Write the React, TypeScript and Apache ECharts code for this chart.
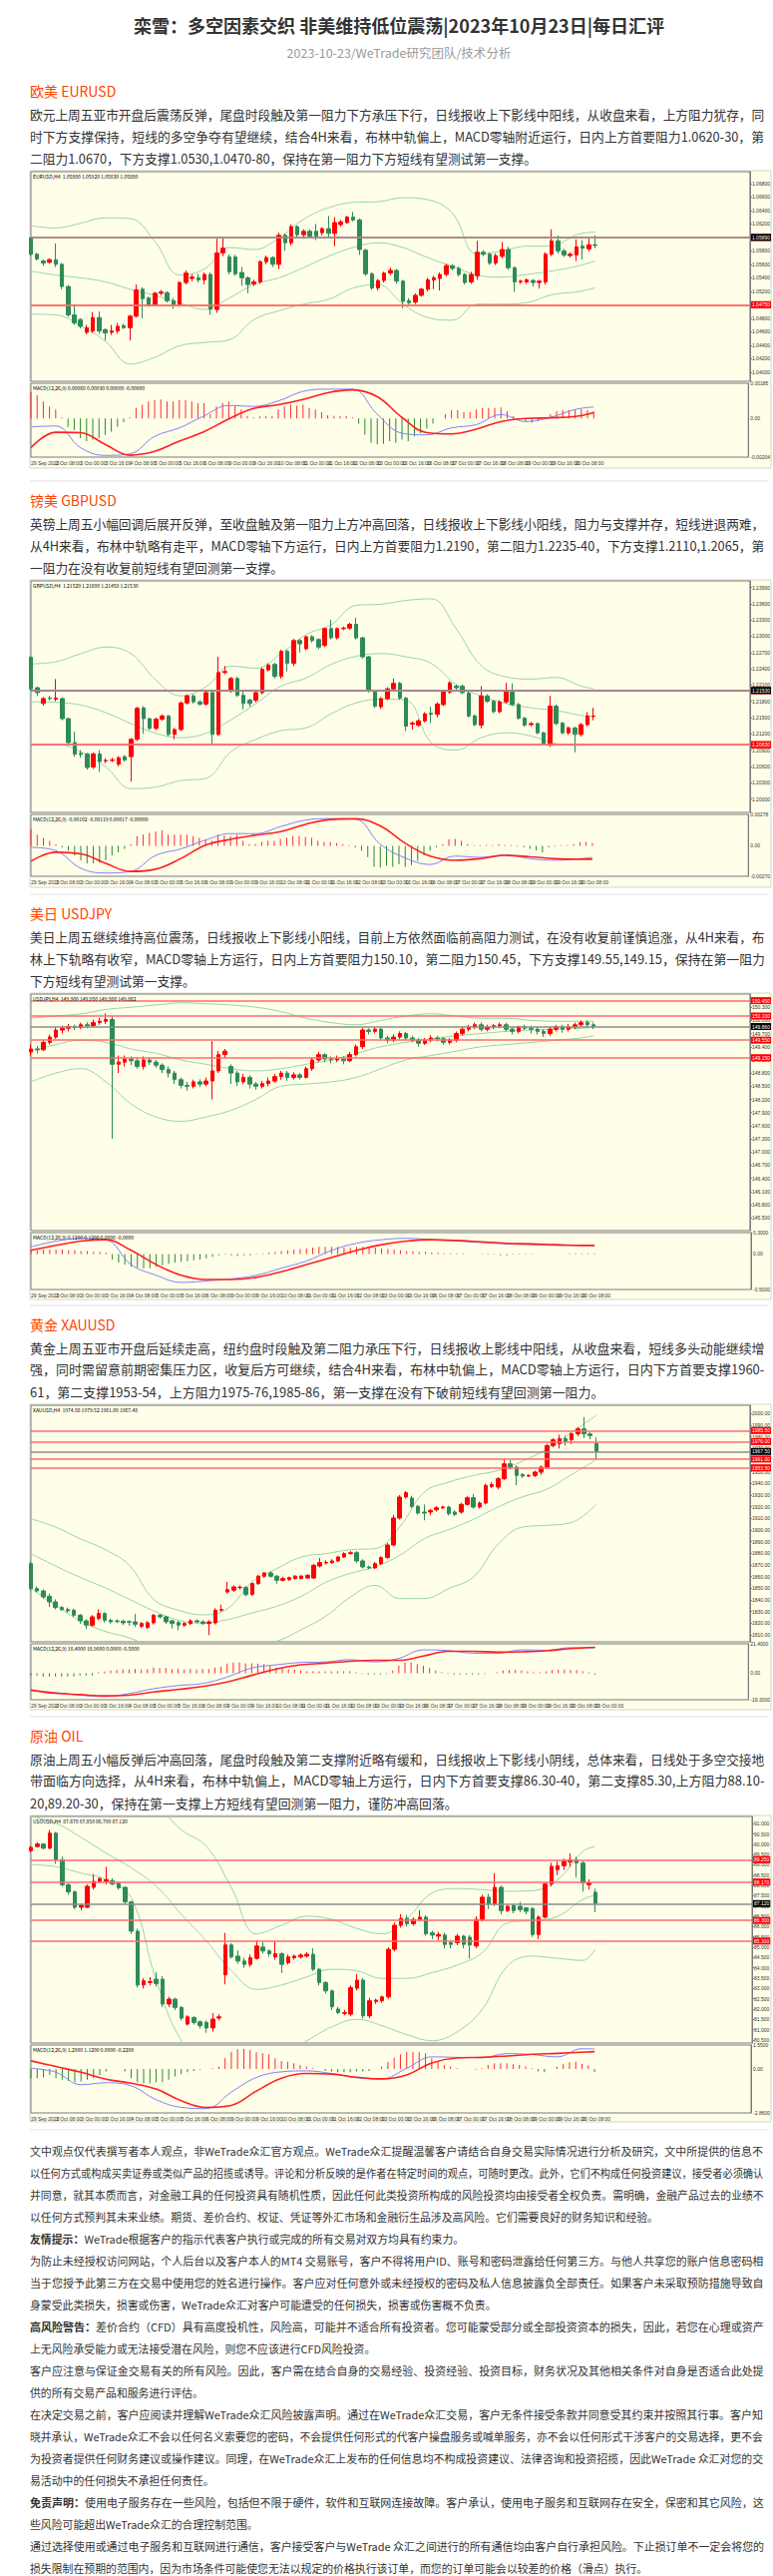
import React, { useEffect, useRef } from "react";
import * as echarts from "echarts";

const FONT = '"Noto Sans CJK SC", "Noto Sans", sans-serif';

const pageTitle = "栾雪：多空因素交织 非美维持低位震荡|2023年10月23日|每日汇评";
const pageSubtitle = "2023-10-23/WeTrade研究团队/技术分析";

const timeLabels = ["29 Sep 2023", "2 Oct 08:00", "3 Oct 00:00", "3 Oct 16:00", "4 Oct 08:00", "5 Oct 00:00", "5 Oct 16:00", "6 Oct 08:00", "9 Oct 00:00", "9 Oct 16:00", "10 Oct 08:00", "11 Oct 00:00", "11 Oct 16:00", "12 Oct 08:00", "13 Oct 00:00", "13 Oct 16:00", "16 Oct 08:00", "17 Oct 00:00", "17 Oct 16:00", "18 Oct 08:00", "19 Oct 00:00", "19 Oct 16:00", "20 Oct 08:00", "23 Oct 00:00"];

// ---------------- EURUSD ----------------
const eurHeading = "欧美 EURUSD";
const eurText = [
  "欧元上周五亚市开盘后震荡反弹，尾盘时段触及第一阻力下方承压下行，日线报收上下影线中阳线，从收盘来看，上方阻力犹存，同",
  "时下方支撑保持，短线的多空争夺有望继续，结合4H来看，布林中轨偏上，MACD零轴附近运行，日内上方首要阻力1.0620-30，第",
  "二阻力1.0670，下方支撑1.0530,1.0470-80，保持在第一阻力下方短线有望测试第一支撑。",
];
const eurCandles = [
  [1.0599,1.0575,1.0572,1.0601],[1.0575,1.0568,1.0566,1.0577],[1.0565,1.0562,1.0558,1.0567],[1.0563,1.0567,1.0561,1.0569],
  [1.0567,1.0560,1.0556,1.0591],[1.0560,1.0527,1.0523,1.0562],[1.0527,1.0485,1.0482,1.0529],[1.0485,1.0473,1.0470,1.0501],
  [1.0478,1.0468,1.0465,1.0480],[1.0459,1.0466,1.0456,1.0470],[1.0461,1.0481,1.0458,1.0489],[1.0481,1.0461,1.0457,1.0490],
  [1.0463,1.0458,1.0447,1.0465],[1.0459,1.0461,1.0455,1.0470],[1.0461,1.0468,1.0457,1.0473],[1.0469,1.0466,1.0464,1.0472],
  [1.0466,1.0483,1.0447,1.0485],[1.0483,1.0522,1.0481,1.0530],[1.0523,1.0509,1.0480,1.0526],[1.0510,1.0500,1.0497,1.0512],
  [1.0500,1.0517,1.0498,1.0519],[1.0517,1.0519,1.0514,1.0522],[1.0518,1.0506,1.0503,1.0520],[1.0506,1.0499,1.0494,1.0510],
  [1.0500,1.0533,1.0497,1.0535],[1.0533,1.0547,1.0530,1.0551],[1.0539,1.0541,1.0535,1.0545],[1.0540,1.0537,1.0533,1.0546],
  [1.0537,1.0545,1.0530,1.0548],[1.0545,1.0493,1.0485,1.0548],[1.0493,1.0577,1.0488,1.0598],[1.0577,1.0584,1.0572,1.0599],
  [1.0571,1.0549,1.0545,1.0575],[1.0571,1.0546,1.0543,1.0574],[1.0548,1.0540,1.0528,1.0556],[1.0540,1.0530,1.0517,1.0542],
  [1.0531,1.0534,1.0528,1.0537],[1.0534,1.0564,1.0531,1.0566],[1.0564,1.0570,1.0560,1.0573],[1.0570,1.0560,1.0556,1.0572],
  [1.0560,1.0603,1.0553,1.0607],[1.0603,1.0592,1.0580,1.0606],[1.0592,1.0616,1.0588,1.0619],[1.0616,1.0604,1.0600,1.0618],
  [1.0604,1.0609,1.0598,1.0612],[1.0609,1.0602,1.0599,1.0612],[1.0609,1.0602,1.0596,1.0620],[1.0607,1.0613,1.0603,1.0615],
  [1.0613,1.0606,1.0600,1.0632],[1.0606,1.0622,1.0587,1.0630],[1.0619,1.0623,1.0616,1.0626],[1.0622,1.0630,1.0620,1.0632],
  [1.0630,1.0626,1.0624,1.0638],[1.0626,1.0582,1.0574,1.0628],[1.0581,1.0546,1.0543,1.0583],[1.0546,1.0525,1.0522,1.0548],
  [1.0525,1.0536,1.0521,1.0538],[1.0536,1.0547,1.0533,1.0549],[1.0547,1.0551,1.0544,1.0555],[1.0551,1.0535,1.0531,1.0553],
  [1.0535,1.0505,1.0495,1.0537],[1.0506,1.0503,1.0500,1.0510],[1.0504,1.0514,1.0501,1.0517],[1.0514,1.0523,1.0512,1.0525],
  [1.0523,1.0537,1.0520,1.0540],[1.0537,1.0540,1.0523,1.0543],[1.0539,1.0545,1.0521,1.0548],[1.0545,1.0558,1.0542,1.0561],
  [1.0558,1.0554,1.0551,1.0560],[1.0554,1.0545,1.0542,1.0557],[1.0545,1.0533,1.0530,1.0547],[1.0534,1.0545,1.0531,1.0549],
  [1.0543,1.0578,1.0537,1.0595],[1.0578,1.0575,1.0572,1.0581],[1.0575,1.0562,1.0559,1.0578],[1.0562,1.0573,1.0559,1.0576],
  [1.0572,1.0582,1.0569,1.0593],[1.0582,1.0555,1.0552,1.0586],[1.0555,1.0534,1.0519,1.0557],[1.0534,1.0535,1.0531,1.0537],
  [1.0534,1.0537,1.0531,1.0539],[1.0536,1.0533,1.0527,1.0538],[1.0533,1.0535,1.0524,1.0537],[1.0534,1.0575,1.0530,1.0578],
  [1.0575,1.0595,1.0572,1.0612],[1.0595,1.0580,1.0576,1.0603],[1.0580,1.0574,1.0571,1.0583],[1.0573,1.0575,1.0570,1.0578],
  [1.0574,1.0586,1.0565,1.0597],[1.0587,1.0584,1.0567,1.0596],[1.0583,1.0589,1.0579,1.0598],[1.0589,1.0588,1.0584,1.0603],
];
const eurBandIdx = [0,4,8,12,16,20,24,28,32,36,40,44,48,52,56,60,64,68,72,76,80,84,88,91];
const eurUpper = [1.0617,1.0614,1.0621,1.0629,1.0628,1.0594,1.0544,1.0553,1.0585,1.0582,1.0599,1.0627,1.0644,1.0652,1.0653,1.0659,1.0656,1.0636,1.0575,1.0580,1.0587,1.0587,1.0604,1.0608];
const eurMiddle = [1.0550,1.0544,1.0540,1.0534,1.0523,1.0514,1.0503,1.0493,1.0510,1.0530,1.0540,1.0555,1.0572,1.0585,1.0592,1.0585,1.0570,1.0557,1.0544,1.0541,1.0545,1.0550,1.0557,1.0565];
const eurLower = [1.0486,1.0485,1.0469,1.0446,1.0412,1.0422,1.0439,1.0444,1.0448,1.0478,1.0491,1.0501,1.0508,1.0525,1.0530,1.0501,1.0481,1.0477,1.0501,1.0501,1.0503,1.0515,1.0519,1.0525];
const eurMacd = [-0.00045,-0.00040,-0.00154,-0.00195,-0.00187,-0.00095,-0.00050,0.00013,0.00068,0.00063,0.00092,0.00142,0.00154,0.00154,0.00022,-0.00078,-0.00087,-0.00050,-0.00033,0.00020,-0.00017,0.00005,0.00047,0.00060];
const eurSignal = [-0.00154,-0.00073,-0.00075,-0.00137,-0.00194,-0.00174,-0.00120,-0.00070,-0.00003,0.00052,0.00072,0.00100,0.00135,0.00150,0.00114,0.00005,-0.00075,-0.00082,-0.00057,-0.00017,0.00000,0.00003,0.00010,0.00030];
const eurHist = [0.00139,0.00122,0.00089,0.00063,0.00047,0.00005,-0.00045,-0.00062,-0.00104,-0.00120,
  -0.00112,-0.00104,-0.00087,-0.00070,-0.00045,-0.00020,0.00005,0.00055,0.00072,0.00089,
  0.00097,0.00100,0.00089,0.00089,0.00097,0.00097,0.00089,0.00080,0.00080,0.00022,
  0.00063,0.00080,0.00089,0.00067,0.00047,0.00013,0.00005,0.00010,0.00013,0.00013,
  0.00047,0.00063,0.00072,0.00067,0.00072,0.00055,0.00047,0.00033,0.00017,0.00013,
  0.00013,0.00013,0.00005,-0.00028,-0.00087,-0.00129,-0.00137,-0.00134,-0.00120,-0.00129,
  -0.00112,-0.00120,-0.00095,-0.00078,-0.00053,-0.00028,0.00000,0.00022,0.00043,0.00043,
  0.00033,0.00033,0.00047,0.00055,0.00055,0.00055,0.00058,0.00038,0.00013,-0.00007,
  -0.00017,-0.00023,-0.00012,0.00000,0.00022,0.00038,0.00043,0.00043,0.00047,0.00050,
  0.00043,0.00038];
const eurLevels = [1.0670, 1.0620, 1.0531, 1.0475];
const eurLast = 1.0589;

// ---------------- GBPUSD ----------------
const gbpHeading = "镑美 GBPUSD";
const gbpText = [
  "英镑上周五小幅回调后展开反弹，至收盘触及第一阻力上方冲高回落，日线报收上下影线小阳线，阻力与支撑并存，短线进退两难，",
  "从4H来看，布林中轨略有走平，MACD零轴下方运行，日内上方首要阻力1.2190，第二阻力1.2235-40，下方支撑1.2110,1.2065，第",
  "一阻力在没有收复前短线有望回测第一支撑。",
];
const gbpCandles = [
  [1.2261,1.2203,1.2199,1.2263],[1.2205,1.2196,1.2190,1.2207],[1.2176,1.2185,1.2172,1.2188],[1.2186,1.2185,1.2182,1.2190],
  [1.2184,1.2186,1.2180,1.2221],[1.2185,1.2148,1.2145,1.2187],[1.2148,1.2104,1.2100,1.2150],[1.2104,1.2083,1.2078,1.2124],
  [1.2084,1.2082,1.2076,1.2090],[1.2083,1.2058,1.2054,1.2085],[1.2059,1.2083,1.2055,1.2086],[1.2083,1.2069,1.2050,1.2090],
  [1.2070,1.2071,1.2066,1.2075],[1.2071,1.2072,1.2068,1.2076],[1.2064,1.2076,1.2060,1.2079],[1.2078,1.2072,1.2069,1.2081],
  [1.2078,1.2110,1.2032,1.2112],[1.2110,1.2167,1.2107,1.2170],[1.2168,1.2148,1.2120,1.2171],[1.2148,1.2130,1.2127,1.2150],
  [1.2130,1.2147,1.2127,1.2150],[1.2147,1.2153,1.2144,1.2156],[1.2153,1.2119,1.2115,1.2155],[1.2119,1.2128,1.2110,1.2131],
  [1.2128,1.2177,1.2125,1.2180],[1.2177,1.2190,1.2174,1.2193],[1.2190,1.2179,1.2176,1.2193],[1.2179,1.2175,1.2172,1.2182],
  [1.2175,1.2196,1.2172,1.2199],[1.2196,1.2119,1.2100,1.2198],[1.2119,1.2233,1.2116,1.2262],[1.2233,1.2235,1.2230,1.2245],
  [1.2199,1.2222,1.2196,1.2225],[1.2222,1.2191,1.2188,1.2225],[1.2191,1.2176,1.2165,1.2200],[1.2182,1.2176,1.2170,1.2185],
  [1.2182,1.2196,1.2178,1.2199],[1.2196,1.2239,1.2193,1.2242],[1.2238,1.2247,1.2235,1.2250],[1.2248,1.2226,1.2222,1.2251],
  [1.2226,1.2272,1.2222,1.2275],[1.2272,1.2250,1.2235,1.2275],[1.2250,1.2292,1.2245,1.2295],[1.2292,1.2286,1.2270,1.2295],
  [1.2277,1.2299,1.2274,1.2301],[1.2299,1.2292,1.2288,1.2302],[1.2294,1.2280,1.2276,1.2296],[1.2283,1.2314,1.2280,1.2316],
  [1.2314,1.2297,1.2294,1.2330],[1.2297,1.2314,1.2294,1.2316],[1.2314,1.2315,1.2311,1.2318],[1.2315,1.2322,1.2312,1.2325],
  [1.2322,1.2297,1.2294,1.2334],[1.2297,1.2262,1.2259,1.2299],[1.2262,1.2199,1.2196,1.2264],[1.2199,1.2171,1.2168,1.2201],
  [1.2170,1.2185,1.2166,1.2188],[1.2185,1.2203,1.2182,1.2206],[1.2203,1.2213,1.2200,1.2222],[1.2213,1.2186,1.2183,1.2216],
  [1.2186,1.2134,1.2125,1.2188],[1.2138,1.2140,1.2128,1.2143],[1.2136,1.2144,1.2133,1.2147],[1.2144,1.2157,1.2141,1.2160],
  [1.2158,1.2156,1.2140,1.2170],[1.2156,1.2175,1.2150,1.2178],[1.2174,1.2197,1.2171,1.2200],[1.2197,1.2214,1.2194,1.2217],
  [1.2208,1.2205,1.2200,1.2211],[1.2208,1.2196,1.2193,1.2211],[1.2195,1.2153,1.2150,1.2198],[1.2153,1.2137,1.2134,1.2156],
  [1.2136,1.2190,1.2130,1.2208],[1.2190,1.2180,1.2177,1.2193],[1.2180,1.2161,1.2158,1.2183],[1.2161,1.2179,1.2158,1.2182],
  [1.2179,1.2197,1.2176,1.2214],[1.2197,1.2174,1.2171,1.2213],[1.2174,1.2149,1.2146,1.2177],[1.2149,1.2136,1.2133,1.2151],
  [1.2137,1.2139,1.2134,1.2142],[1.2139,1.2122,1.2119,1.2141],[1.2122,1.2102,1.2099,1.2124],[1.2102,1.2171,1.2096,1.2190],
  [1.2171,1.2139,1.2136,1.2174],[1.2140,1.2122,1.2119,1.2142],[1.2122,1.2131,1.2118,1.2134],[1.2131,1.2119,1.2086,1.2133],
  [1.2119,1.2137,1.2115,1.2140],[1.2137,1.2153,1.2134,1.2160],[1.2152,1.2153,1.2145,1.2168],
];
const gbpBandIdx = [0,4,8,12,16,20,24,28,32,36,40,44,48,52,56,60,64,68,72,76,80,84,88,90];
const gbpUpper = [1.2249,1.2253,1.2268,1.2280,1.2268,1.2219,1.2190,1.2207,1.2245,1.2241,1.2268,1.2303,1.2321,1.2357,1.2359,1.2366,1.2369,1.2314,1.2246,1.2225,1.2221,1.2224,1.2208,1.2203];
const gbpMiddle = [1.2179,1.2178,1.2173,1.2159,1.2139,1.2121,1.2113,1.2121,1.2146,1.2176,1.2208,1.2223,1.2248,1.2263,1.2268,1.2262,1.2250,1.2211,1.2190,1.2176,1.2168,1.2163,1.2154,1.2152];
const gbpLower = [1.2099,1.2101,1.2087,1.2059,1.2019,1.2022,1.2034,1.2038,1.2087,1.2110,1.2126,1.2131,1.2157,1.2177,1.2184,1.2182,1.2104,1.2090,1.2113,1.2122,1.2116,1.2102,1.2099,1.2100];
const gbpMacd = [-0.00014,-0.00043,-0.00199,-0.00241,-0.00227,-0.00085,-0.00028,0.00051,0.00108,0.00108,0.00170,0.00227,0.00241,0.00236,0.00014,-0.00108,-0.00165,-0.00091,-0.00102,-0.00080,-0.00114,-0.00128,-0.00114,-0.00102];
const gbpSignal = [-0.00136,-0.00057,-0.00071,-0.00156,-0.00227,-0.00207,-0.00114,0.00006,0.00057,0.00094,0.00125,0.00190,0.00233,0.00239,0.00176,0.00023,-0.00091,-0.00128,-0.00114,-0.00085,-0.00097,-0.00114,-0.00119,-0.00119];
const gbpHist = [0.00148,0.00099,0.00071,0.00043,0.00014,-0.00014,-0.00043,-0.00085,-0.00128,-0.00156,
  -0.00156,-0.00148,-0.00128,-0.00085,-0.00057,-0.00028,0.00014,0.00085,0.00099,0.00114,
  0.00128,0.00136,0.00099,0.00099,0.00099,0.00099,0.00085,0.00071,0.00057,0.00043,
  0.00099,0.00091,0.00085,0.00099,0.00043,0.00014,0.00014,0.00034,0.00043,0.00043,
  0.00062,0.00071,0.00085,0.00085,0.00080,0.00071,0.00043,0.00034,0.00034,0.00023,
  0.00014,0.00006,-0.00014,-0.00043,-0.00099,-0.00185,-0.00193,-0.00176,-0.00185,-0.00165,
  -0.00185,-0.00170,-0.00136,-0.00085,-0.00043,-0.00014,0.00014,0.00057,0.00062,0.00043,
  0.00014,0.00006,0.00006,0.00009,0.00006,0.00014,0.00009,0.00006,-0.00006,-0.00014,
  -0.00028,-0.00043,-0.00057,-0.00014,-0.00006,0.00006,0.00006,0.00014,0.00034,0.00034,0.00023];
const gbpLevels = [1.2240, 1.2190, 1.2110, 1.2063];
const gbpLast = 1.2153;

// ---------------- USDJPY ----------------
const jpyHeading = "美日 USDJPY";
const jpyText = [
  "美日上周五继续维持高位震荡，日线报收上下影线小阳线，目前上方依然面临前高阻力测试，在没有收复前谨慎追涨，从4H来看，布",
  "林上下轨略有收窄，MACD零轴上方运行，日内上方首要阻力150.10，第二阻力150.45，下方支撑149.55,149.15，保持在第一阻力",
  "下方短线有望测试第一支撑。",
];
const jpyCandles = [
  [149.28,149.35,149.20,149.45],[149.35,149.33,149.25,149.42],[149.33,149.50,149.30,149.55],[149.50,149.62,149.45,149.68],
  [149.62,149.78,149.58,149.83],[149.78,149.82,149.70,149.88],[149.82,149.86,149.75,149.92],[149.86,149.84,149.78,149.90],
  [149.84,149.90,149.80,149.95],[149.90,149.88,149.82,149.96],[149.88,149.95,149.85,150.02],[149.95,149.98,149.90,150.06],
  [149.98,150.02,149.92,150.16],[150.02,149.00,147.30,150.10],[149.00,149.05,148.80,149.20],[149.05,149.12,148.95,149.20],
  [149.12,149.08,148.98,149.18],[149.08,148.95,148.90,149.15],[148.95,149.10,148.88,149.18],[149.10,149.05,148.98,149.15],
  [149.05,148.98,148.92,149.10],[148.98,148.88,148.80,149.02],[148.88,148.80,148.70,148.95],[148.80,148.65,148.55,148.85],
  [148.65,148.52,148.45,148.70],[148.52,148.50,148.40,148.60],[148.50,148.60,148.45,148.65],[148.60,148.55,148.48,148.66],
  [148.55,148.62,148.50,148.70],[148.62,148.85,148.20,149.53],[148.85,149.22,148.80,149.30],[149.22,149.30,149.15,149.35],
  [148.95,148.80,148.55,149.00],[148.80,148.60,148.50,148.85],[148.60,148.70,148.55,148.78],[148.70,148.55,148.45,148.75],
  [148.55,148.50,148.42,148.60],[148.50,148.56,148.45,148.62],[148.56,148.62,148.50,148.70],[148.62,148.72,148.58,148.78],
  [148.72,148.80,148.65,148.85],[148.80,148.70,148.62,148.85],[148.70,148.76,148.65,148.82],[148.76,148.70,148.65,148.80],
  [148.70,148.90,148.68,148.95],[148.90,149.10,148.85,149.15],[149.10,149.22,149.05,149.28],[149.22,149.12,149.05,149.25],
  [149.12,149.10,149.02,149.18],[149.10,149.12,149.05,149.20],[149.12,149.08,149.00,149.18],[149.08,149.22,149.05,149.28],
  [149.22,149.40,149.18,149.45],[149.40,149.78,149.35,149.83],[149.78,149.75,149.68,149.82],[149.75,149.80,149.70,149.85],
  [149.80,149.60,149.55,149.83],[149.60,149.55,149.48,149.65],[149.55,149.62,149.50,149.68],[149.62,149.70,149.58,149.75],
  [149.70,149.60,149.55,149.74],[149.60,149.55,149.50,149.65],[149.55,149.48,149.40,149.60],[149.48,149.55,149.44,149.60],
  [149.55,149.60,149.50,149.66],[149.60,149.58,149.52,149.65],[149.58,149.50,149.45,149.62],[149.50,149.55,149.45,149.60],
  [149.55,149.70,149.50,149.75],[149.70,149.80,149.65,149.85],[149.80,149.85,149.75,149.90],[149.85,149.90,149.80,149.95],
  [149.90,149.80,149.75,149.95],[149.80,149.85,149.75,149.90],[149.85,149.88,149.80,149.92],[149.88,149.90,149.82,149.95],
  [149.90,149.80,149.75,149.95],[149.80,149.75,149.68,149.85],[149.75,149.85,149.70,149.88],[149.85,149.82,149.78,149.90],
  [149.82,149.80,149.70,149.88],[149.80,149.75,149.68,149.85],[149.75,149.70,149.62,149.80],[149.70,149.80,149.65,149.85],
  [149.80,149.85,149.75,149.90],[149.85,149.80,149.72,149.90],[149.80,149.85,149.75,149.92],[149.85,149.90,149.80,149.95],
  [149.90,149.95,149.85,150.00],[149.95,149.90,149.84,150.00],[149.90,149.86,149.80,149.95],
];
const jpyBandIdx = [0,4,8,12,16,20,24,28,32,36,40,44,48,52,56,60,64,68,72,76,80,84,88,90];
const jpyUpper = [150.05,150.10,150.15,150.25,150.30,150.35,150.40,150.38,150.35,150.30,150.20,150.05,149.95,149.90,150.00,150.10,150.15,150.10,150.05,150.05,150.00,149.98,149.98,149.98];
const jpyMiddle = [149.30,149.45,149.55,149.50,149.35,149.25,149.10,149.00,148.90,148.85,148.90,149.00,149.10,149.25,149.40,149.50,149.58,149.65,149.70,149.75,149.78,149.80,149.82,149.84];
const jpyLower = [148.60,148.80,148.90,148.60,148.10,147.80,147.70,147.80,147.95,148.20,148.50,148.55,148.60,148.70,148.90,149.10,149.20,149.30,149.40,149.45,149.50,149.55,149.60,149.65];
const jpyMacd = [0.10,0.18,0.22,0.20,-0.15,-0.30,-0.40,-0.38,-0.35,-0.30,-0.20,-0.10,0.05,0.15,0.20,0.22,0.20,0.18,0.16,0.14,0.13,0.12,0.12,0.12];
const jpySignal = [0.05,0.12,0.18,0.20,0.05,-0.15,-0.30,-0.36,-0.36,-0.33,-0.25,-0.15,-0.05,0.05,0.13,0.18,0.20,0.19,0.17,0.15,0.14,0.13,0.12,0.12];
const jpyHist = [0.05,0.05,0.06,0.06,0.06,0.06,0.05,0.05,0.04,0.04,
  0.03,0.03,0.02,-0.08,-0.12,-0.15,-0.18,-0.19,-0.20,-0.20,
  -0.18,-0.16,-0.14,-0.12,-0.11,-0.10,-0.09,-0.08,-0.06,-0.04,
  -0.02,-0.01,-0.02,-0.03,-0.02,-0.02,-0.01,0.01,0.02,0.03,
  0.04,0.05,0.06,0.07,0.08,0.09,0.10,0.10,0.10,0.10,
  0.09,0.09,0.10,0.10,0.10,0.09,0.08,0.07,0.06,0.05,
  0.04,0.04,0.03,0.03,0.02,0.02,0.01,0.01,0.01,0.01,
  0.00,0.00,-0.01,-0.01,-0.01,-0.02,-0.02,-0.01,-0.01,-0.01,
  -0.01,0.00,0.00,0.00,0.00,0.00,0.01,0.01,0.01,0.01,0.01];
const jpyLevels = [150.45, 150.10, 149.55, 149.15];
const jpyLast = 149.86;

// ---------------- XAUUSD ----------------
const xauHeading = "黄金 XAUUSD";
const xauText = [
  "黄金上周五亚市开盘后延续走高，纽约盘时段触及第二阻力承压下行，日线报收上影线中阳线，从收盘来看，短线多头动能继续增",
  "强，同时需留意前期密集压力区，收复后方可继续，结合4H来看，布林中轨偏上，MACD零轴上方运行，日内下方首要支撑1960-",
  "61，第二支撑1953-54，上方阻力1975-76,1985-86，第一支撑在没有下破前短线有望回测第一阻力。",
];
const xauCandles = [
  [1871.2,1849.8,1848.0,1873.0],[1849.8,1847.8,1846.5,1851.5],[1847.8,1842.6,1841.0,1849.0],[1843.2,1838.4,1834.0,1845.5],
  [1838.4,1833.5,1832.0,1840.5],[1833.5,1831.8,1830.5,1835.0],[1831.8,1830.6,1829.0,1833.5],[1831.2,1826.9,1825.5,1832.5],
  [1826.9,1822.1,1819.5,1828.0],[1822.1,1818.4,1815.0,1823.5],[1818.4,1825.5,1817.0,1827.0],[1824.1,1828.4,1822.5,1832.0],
  [1828.4,1822.6,1820.5,1829.5],[1822.6,1821.2,1819.8,1824.0],[1822.0,1821.5,1820.0,1823.5],[1821.8,1820.4,1818.5,1823.0],
  [1821.4,1821.0,1818.0,1822.5],[1821.2,1819.2,1817.0,1828.0],[1817.5,1819.8,1816.0,1821.0],[1816.4,1820.4,1815.0,1822.0],
  [1820.4,1826.9,1819.0,1828.0],[1826.9,1825.5,1824.0,1828.0],[1825.5,1821.2,1819.5,1826.5],[1822.1,1819.8,1815.5,1823.0],
  [1820.6,1818.4,1814.0,1822.0],[1818.4,1819.8,1817.0,1821.0],[1819.8,1822.1,1818.5,1823.5],[1822.1,1821.2,1820.0,1823.5],
  [1821.2,1819.8,1818.5,1822.5],[1819.8,1821.2,1809.8,1822.5],[1820.4,1831.2,1819.0,1833.0],[1831.2,1831.8,1830.0,1836.0],
  [1846.9,1848.9,1845.5,1855.5],[1848.4,1851.2,1847.0,1852.5],[1850.6,1851.0,1849.0,1852.5],[1850.6,1844.6,1843.0,1852.0],
  [1844.9,1854.1,1843.5,1855.0],[1854.1,1860.4,1853.0,1861.5],[1860.4,1863.2,1859.0,1864.0],[1863.2,1860.4,1859.0,1864.5],
  [1860.4,1856.9,1854.0,1861.5],[1856.9,1858.4,1856.0,1860.0],[1857.5,1859.2,1856.5,1860.0],[1858.4,1860.4,1857.5,1861.5],
  [1858.4,1860.6,1857.5,1861.0],[1858.9,1861.2,1858.0,1862.0],[1858.9,1869.8,1858.0,1871.0],[1869.2,1872.1,1868.0,1876.0],
  [1871.8,1872.3,1870.5,1874.0],[1872.1,1873.5,1871.0,1875.0],[1873.5,1876.9,1872.5,1878.0],[1876.9,1879.8,1876.0,1881.0],
  [1879.8,1880.6,1879.0,1882.0],[1880.6,1873.5,1872.0,1882.0],[1873.5,1868.4,1867.0,1875.0],[1868.4,1867.5,1866.5,1869.5],
  [1867.5,1871.2,1866.5,1872.5],[1871.2,1876.4,1870.0,1877.5],[1876.4,1887.2,1875.5,1889.0],[1887.2,1910.4,1886.0,1913.0],
  [1910.4,1928.4,1909.0,1930.0],[1928.4,1932.1,1927.0,1933.5],[1927.5,1920.4,1919.0,1929.5],[1920.4,1914.6,1913.5,1921.5],
  [1915.5,1914.6,1908.4,1922.0],[1915.5,1916.9,1913.0,1918.0],[1917.5,1919.2,1916.0,1920.5],[1919.2,1919.8,1918.0,1921.0],
  [1919.8,1914.1,1912.5,1921.0],[1915.5,1913.5,1912.0,1917.0],[1915.5,1922.1,1914.0,1923.5],[1922.1,1927.8,1921.0,1929.0],
  [1927.8,1919.8,1918.5,1931.0],[1919.8,1923.2,1918.5,1924.5],[1923.2,1938.4,1922.0,1939.8],[1937.5,1939.2,1936.0,1941.0],
  [1936.9,1944.1,1935.0,1945.5],[1944.1,1956.9,1943.0,1961.0],[1956.9,1954.1,1952.0,1960.0],[1954.1,1946.9,1938.5,1955.5],
  [1947.8,1946.4,1945.0,1949.0],[1946.4,1946.9,1945.5,1948.0],[1946.9,1949.8,1945.5,1951.0],[1949.8,1954.1,1947.5,1955.5],
  [1954.1,1972.6,1953.0,1974.0],[1972.6,1977.5,1971.0,1979.0],[1974.1,1978.4,1970.0,1982.0],[1978.4,1976.4,1972.5,1981.0],
  [1977.5,1982.6,1974.0,1984.0],[1982.6,1986.9,1980.5,1988.5],[1986.9,1982.6,1979.0,1997.0],[1982.6,1981.2,1978.0,1984.0],
  [1974.6,1967.5,1961.0,1979.5],
];
const xauBandIdx = [0,4,8,12,16,20,24,28,32,36,40,44,48,52,56,60,64,68,72,76,80,84,88,92];
const xauUpper = [1909.8,1902.6,1892.6,1883.5,1869.8,1840.4,1831.2,1827.2,1832.6,1855.5,1866.9,1876.9,1879.8,1883.2,1884.1,1902.6,1932.6,1941.2,1946.9,1951.2,1959.2,1969.8,1984.1,1998.4];
const xauMiddle = [1879.8,1869.2,1859.5,1850.6,1840.6,1830.6,1822.6,1820.1,1823.2,1828.9,1834.6,1843.2,1855.2,1862.9,1868.4,1878.4,1892.6,1900.4,1909.2,1919.8,1928.6,1935.2,1947.8,1960.4];
const xauLower = [1849.8,1835.5,1822.1,1813.2,1807.5,1799.2,1796.1,1793.5,1796.4,1800.9,1804.6,1814.6,1826.1,1842.6,1852.6,1841.2,1841.2,1849.8,1859.8,1887.8,1902.6,1904.1,1906.6,1922.1];
const xauMacd = [-12.7,-14.1,-16.0,-17.0,-14.8,-11.3,-9.0,-7.5,-2.8,3.8,6.1,7.8,8.2,9.9,8.2,10.8,17.0,16.5,14.6,14.4,17.0,16.7,18.6,18.4];
const xauSignal = [-12.3,-14.6,-15.6,-16.5,-16.0,-13.7,-11.8,-9.7,-6.4,-1.6,3.1,6.1,7.3,8.7,9.4,9.4,12.5,16.0,16.0,15.3,15.6,16.3,17.9,18.9];
const xauHist = [-1.6,-1.6,-2.4,-2.4,-2.4,-2.4,-2.4,-2.4,-1.6,-1.6,-1.6,
  0.7,1.2,1.9,2.4,2.6,2.6,3.1,2.6,3.1,4.2,3.8,3.8,3.1,3.1,2.6,3.1,2.6,3.1,3.1,4.2,4.7,
  7.1,7.8,7.8,7.3,7.3,7.1,6.6,5.4,4.2,3.8,3.1,2.6,1.9,1.4,1.4,1.4,1.4,1.4,1.4,1.4,1.4,0.7,
  -0.5,-0.9,-0.9,-0.9,-0.5,
  1.9,5.4,7.8,7.8,6.6,5.4,3.8,1.9,0.7,
  -0.5,-0.9,-0.9,-0.9,-0.9,-0.9,-0.5,0.0,
  0.7,1.9,2.4,2.4,1.9,1.4,0.7,0.7,1.4,2.4,2.6,2.6,2.4,2.4,1.4,0.7,
  -0.9];
const xauLevels = [1985.5, 1976.0, 1961.0, 1953.5];
const xauLast = 1967.5;

// ---------------- OIL ----------------
const oilHeading = "原油 OIL";
const oilText = [
  "原油上周五小幅反弹后冲高回落，尾盘时段触及第二支撑附近略有缓和，日线报收上下影线小阴线，总体来看，日线处于多空交接地",
  "带面临方向选择，从4H来看，布林中轨偏上，MACD零轴上方运行，日内下方首要支撑86.30-40，第二支撑85.30,上方阻力88.10-",
  "20,89.20-30，保持在第一支撑上方短线有望回测第一阻力，谨防冲高回落。",
];
const oilCandles = [
  [89.69,89.85,89.60,89.92],[89.89,90.01,89.84,90.10],[90.01,89.81,89.75,90.05],[89.81,90.54,89.75,90.70],
  [90.54,89.25,89.05,90.60],[89.25,88.04,87.95,89.40],[88.04,87.69,87.55,88.10],[87.69,86.94,86.85,87.75],
  [86.94,87.04,86.80,87.10],[86.94,87.96,86.90,88.05],[87.91,88.20,87.80,88.55],[88.20,88.33,88.10,88.40],
  [88.20,88.28,88.05,88.90],[88.23,88.07,88.00,88.35],[88.12,87.88,87.80,88.20],[87.91,87.20,87.10,87.95],
  [87.20,85.78,85.65,87.25],[85.78,83.17,83.05,85.90],[83.17,83.37,83.00,83.50],[83.29,83.33,83.15,83.55],
  [83.45,83.24,83.10,83.80],[83.45,82.24,82.10,83.60],[82.24,82.48,82.10,82.60],[82.48,82.08,81.95,82.55],
  [82.08,81.56,81.45,82.15],[81.27,81.62,81.20,81.70],[81.59,81.35,81.25,81.65],[81.38,81.19,81.05,81.45],
  [81.35,81.08,80.85,81.45],[81.08,81.51,80.90,81.80],[81.56,81.62,81.45,81.75],[83.66,85.11,83.20,85.70],
  [85.11,84.53,84.45,85.20],[84.57,84.33,84.20,84.85],[84.33,84.17,84.00,84.50],[84.17,84.49,84.05,84.65],
  [84.46,85.06,84.40,85.35],[85.01,84.82,84.70,85.25],[84.82,84.69,84.55,84.90],[84.53,84.69,84.40,85.30],
  [84.69,84.17,83.75,84.75],[84.25,84.53,84.15,84.65],[84.49,84.57,84.40,84.65],[84.53,84.62,84.45,84.70],
  [84.57,84.66,84.50,84.75],[84.66,83.93,83.85,84.95],[83.93,83.29,83.15,84.00],[83.29,82.88,82.75,83.35],
  [82.88,82.11,81.95,82.95],[82.00,81.83,81.75,82.10],[81.79,81.83,81.70,81.95],[81.75,83.04,81.65,83.15],
  [83.01,83.40,82.90,83.70],[83.40,81.67,81.55,83.50],[81.67,82.40,81.55,82.55],[82.37,82.43,82.25,82.50],
  [82.40,82.59,82.30,82.65],[82.59,84.90,82.50,85.00],[84.90,86.07,84.80,86.20],[86.07,86.40,85.95,86.60],
  [86.40,86.14,86.00,86.55],[86.14,86.35,86.05,86.45],[86.35,86.46,86.25,86.80],[86.46,85.66,85.55,86.55],
  [85.70,85.59,85.40,85.80],[85.54,85.62,85.35,85.75],[85.59,85.14,84.95,85.70],[85.22,85.14,84.95,85.35],
  [85.22,85.54,85.10,85.65],[85.54,85.14,84.95,85.60],[85.49,85.11,84.45,85.60],[85.06,86.35,84.95,86.50],
  [86.35,87.43,86.25,87.55],[87.43,87.11,86.85,87.60],[87.11,87.91,87.00,88.60],[87.91,86.78,86.60,88.00],
  [86.78,86.99,86.70,87.05],[87.04,86.78,86.65,87.10],[86.99,86.83,86.70,87.20],[86.91,86.75,86.60,86.95],
  [86.88,85.62,85.50,86.95],[85.62,86.46,85.40,86.55],[86.46,88.07,86.40,88.15],[88.07,88.93,87.95,89.10],
  [88.77,88.96,88.50,89.20],[88.96,89.20,88.75,89.30],[89.14,89.25,88.90,89.55],[89.25,89.09,88.40,89.40],
  [89.09,88.12,87.70,89.20],[88.04,88.12,87.80,88.30],[87.67,87.12,86.70,87.85],
];
const oilBandIdx = [0,4,8,12,16,20,24,28,32,36,40,44,48,52,56,60,64,68,72,76,80,84,88,90];
const oilUpper = [92.39,92.55,92.64,92.55,92.23,91.83,90.70,89.89,87.88,85.65,86.07,86.51,86.35,85.91,85.65,86.40,87.64,87.85,87.80,87.72,87.75,88.28,89.65,89.89];
const oilMiddle = [91.35,91.02,90.33,89.57,88.85,87.96,86.59,85.30,83.85,82.95,83.17,83.56,83.93,83.85,83.49,83.49,83.77,84.14,84.74,86.19,86.30,86.51,87.32,87.52];
const oilLower = [89.01,88.91,88.60,88.28,87.40,83.37,80.46,79.34,79.01,79.34,79.82,80.46,81.14,81.50,81.19,80.75,80.46,80.90,82.00,84.09,84.57,84.46,84.36,84.90];
const oilMacd = [0.04,-0.22,-1.03,-0.90,-1.10,-2.00,-2.50,-2.58,-1.51,-0.56,-0.19,-0.13,-0.30,-0.58,-0.65,0.04,0.78,0.75,0.73,0.99,0.93,0.78,1.31,1.29];
const oilSignal = [0.52,0.15,-0.22,-0.67,-0.93,-1.31,-2.07,-2.50,-2.37,-1.44,-0.60,-0.30,-0.34,-0.54,-0.65,-0.39,0.39,0.71,0.75,0.84,0.95,1.01,1.08,1.12];
const oilHist = [-0.60,-0.60,-0.56,-0.39,-0.60,-0.71,-0.78,-0.86,-0.82,-0.71,-0.60,-0.39,-0.17,0,0,-0.17,-0.60,
  -0.86,-0.93,-0.93,-0.86,-0.86,-0.71,-0.50,-0.34,-0.22,-0.13,-0.06,0,
  0.04,0.15,0.69,1.12,1.27,1.29,1.23,1.08,1.01,0.95,0.69,0.52,0.47,0.37,0.26,0.15,0.04,0,
  -0.13,-0.17,-0.22,-0.22,-0.22,-0.17,-0.17,-0.13,0,
  0.15,0.47,0.73,0.95,1.12,1.12,1.08,1.01,0.69,0.47,0.26,0.15,0.04,0,
  0,-0.06,
  0.04,0.26,0.37,0.37,0.37,0.30,0.26,0.15,0.04,
  -0.17,-0.22,0,
  0.15,0.30,0.43,0.47,0.32,0.22,
  -0.22];
const oilLevels = [89.25, 88.17, 86.30, 85.30];
const oilLast = 87.12;

// ---------------- Footer ----------------
// [bold prefix, text, fills the full line width in the reference]
const footerLines: [string, string, boolean][] = [
  ["", "文中观点仅代表撰写者本人观点，非WeTrade众汇官方观点。WeTrade众汇提醒温馨客户请结合自身交易实际情况进行分析及研究，文中所提供的信息不", true],
  ["", "以任何方式或构成买卖证券或类似产品的招揽或诱导。评论和分析反映的是作者在特定时间的观点，可随时更改。此外，它们不构成任何投资建议，接受者必须确认", true],
  ["", "并同意，就其本质而言，对金融工具的任何投资具有随机性质，因此任何此类投资所构成的风险投资均由接受者全权负责。需明确，金融产品过去的业绩不", true],
  ["", "以任何方式预判其未来业绩。期货、差价合约、权证、凭证等外汇市场和金融衍生品涉及高风险。它们需要良好的财务知识和经验。", false],
  ["友情提示：", "WeTrade根据客户的指示代表客户执行或完成的所有交易对双方均具有约束力。", false],
  ["", "为防止未经授权访问网站，个人后台以及客户本人的MT4 交易账号，客户不得将用户ID、账号和密码泄露给任何第三方。与他人共享您的账户信息密码相", true],
  ["", "当于您授予此第三方在交易中使用您的姓名进行操作。客户应对任何意外或未经授权的密码及私人信息披露负全部责任。如果客户未采取预防措施导致自", true],
  ["", "身蒙受此类损失，损害或伤害，WeTrade众汇对客户可能遭受的任何损失，损害或伤害概不负责。", false],
  ["高风险警告：", "差价合约（CFD）具有高度投机性，风险高，可能并不适合所有投资者。您可能蒙受部分或全部投资资本的损失，因此，若您在心理或资产", true],
  ["", "上无风险承受能力或无法接受潜在风险，则您不应该进行CFD风险投资。", false],
  ["", "客户应注意与保证金交易有关的所有风险。因此，客户需在结合自身的交易经验、投资经验、投资目标，财务状况及其他相关条件对自身是否适合此处提", true],
  ["", "供的所有交易产品和服务进行评估。", false],
  ["", "在决定交易之前，客户应阅读并理解WeTrade众汇风险披露声明。通过在WeTrade众汇交易，客户无条件接受条款并同意受其约束并按照其行事。客户知", true],
  ["", "晓并承认，WeTrade众汇不会以任何名义索要您的密码，不会提供任何形式的代客户操盘服务或喊单服务，亦不会以任何形式干涉客户的交易选择，更不会", true],
  ["", "为投资者提供任何财务建议或操作建议。同理，在WeTrade众汇上发布的任何信息均不构成投资建议、法律咨询和投资招揽，因此WeTrade 众汇对您的交", true],
  ["", "易活动中的任何损失不承担任何责任。", false],
  ["免责声明：", "使用电子服务存在一些风险，包括但不限于硬件，软件和互联网连接故障。客户承认，使用电子服务和互联网存在安全，保密和其它风险，这", true],
  ["", "些风险可能超出WeTrade众汇的合理控制范围。", false],
  ["", "通过选择使用或通过电子服务和互联网进行通信，客户接受客户与WeTrade 众汇之间进行的所有通信均由客户自行承担风险。下止损订单不一定会将您的", true],
  ["", "损失限制在预期的范围内，因为市场条件可能使您无法以规定的价格执行该订单，而您的订单可能会以较差的价格（滑点）执行。", false],
];

type Def = {
  heading: string; text: string[]; candles: number[][]; bandIdx: number[];
  upper: number[]; middle: number[]; lower: number[];
  macd: number[]; signal: number[]; hist: number[];
  levels: number[]; last: number; digits: number; mDigits: number;
  info: string; macdInfo: string;
  top: number; mainH: number; macdTop: number; macdH: number; bottom: number; slots: number;
  yMin: number; yMax: number; mMin: number; mMax: number; hr: boolean;
};

const defs: Def[] = [
  { heading: eurHeading, text: eurText, candles: eurCandles, bandIdx: eurBandIdx, upper: eurUpper, middle: eurMiddle, lower: eurLower,
    macd: eurMacd, signal: eurSignal, hist: eurHist, levels: eurLevels, last: eurLast, digits: 5, mDigits: 5,
    info: "EURUSD,H4  1.05880 1.05920 1.05830 1.05880", macdInfo: "MACD(12,26,9) 0.00060 0.00030 0.00000 -0.00000",
    top: 172, mainH: 210, macdTop: 384, macdH: 74, bottom: 469, slots: 117, yMin: 1.03864, yMax: 1.06976, mMin: -0.00204, mMax: 0.00185, hr: false },
  { heading: gbpHeading, text: gbpText, candles: gbpCandles, bandIdx: gbpBandIdx, upper: gbpUpper, middle: gbpMiddle, lower: gbpLower,
    macd: gbpMacd, signal: gbpSignal, hist: gbpHist, levels: gbpLevels, last: gbpLast, digits: 5, mDigits: 5,
    info: "GBPUSD,H4  1.21520 1.21600 1.21450 1.21530", macdInfo: "MACD(12,26,9) -0.00102 -0.00119 0.00017 -0.00000",
    top: 582, mainH: 232, macdTop: 816, macdH: 62, bottom: 889, slots: 116, yMin: 1.19752, yMax: 1.2402, mMin: -0.0027, mMax: 0.00278, hr: true },
  { heading: jpyHeading, text: jpyText, candles: jpyCandles, bandIdx: jpyBandIdx, upper: jpyUpper, middle: jpyMiddle, lower: jpyLower,
    macd: jpyMacd, signal: jpySignal, hist: jpyHist, levels: jpyLevels, last: jpyLast, digits: 3, mDigits: 4,
    info: "USDJPY,H4  149.900 149.950 149.800 149.862", macdInfo: "MACD(12,26,9) 0.1200 0.1200 0.0000 -0.0000",
    top: 996, mainH: 237, macdTop: 1235, macdH: 57, bottom: 1302, slots: 116, yMin: 145.21, yMax: 150.60, mMin: -0.5, mMax: 0.3, hr: true },
  { heading: xauHeading, text: xauText, candles: xauCandles, bandIdx: xauBandIdx, upper: xauUpper, middle: xauMiddle, lower: xauLower,
    macd: xauMacd, signal: xauSignal, hist: xauHist, levels: xauLevels, last: xauLast, digits: 2, mDigits: 4,
    info: "XAUUSD,H4  1974.56 1979.52 1961.00 1967.48", macdInfo: "MACD(12,26,9) 18.4000 18.9000 0.0000 -0.5000",
    top: 1408, mainH: 237, macdTop: 1647, macdH: 56, bottom: 1713, slots: 118, yMin: 1804.07, yMax: 2007.2, mMin: -19.3, mMax: 21.4, hr: true },
  { heading: oilHeading, text: oilText, candles: oilCandles, bandIdx: oilBandIdx, upper: oilUpper, middle: oilMiddle, lower: oilLower,
    macd: oilMacd, signal: oilSignal, hist: oilHist, levels: oilLevels, last: oilLast, digits: 3, mDigits: 4,
    info: "USOUSD,H4  87.670 87.850 86.700 87.120", macdInfo: "MACD(12,26,9) 1.2900 1.1200 0.0000 -0.2200",
    top: 1820, mainH: 227, macdTop: 2049, macdH: 68, bottom: 2126, slots: 116, yMin: 80.35, yMax: 91.35, mMin: -2.86, mMax: 1.55, hr: true },
];

let measureCtx: CanvasRenderingContext2D | null = null;
function fontOf(size: number, weight: string) {
  return `${weight} ${size}px ${FONT}`;
}
function measure(text: string, size: number, weight = "normal") {
  if (!measureCtx) measureCtx = document.createElement("canvas").getContext("2d");
  if (!measureCtx) return text.length * size;
  measureCtx.font = fontOf(size, weight);
  return measureCtx.measureText(text).width;
}

function txt(x: number, y: number, text: string, size: number, color: string, weight = "normal", align = "left", scaleX = 1) {
  return {
    type: "text", x, y, scaleX, z: 100, silent: true,
    style: {
      text, fill: color, font: fontOf(size, weight),
      textAlign: align, textVerticalAlign: "middle", align, verticalAlign: "middle",
    },
  };
}

// fit a paragraph's lines so that full lines end at the column's right edge
function paragraph(elements: any[], x: number, ys: number[], lines: string[], full: boolean[], size: number, color: string, width: number, prefixes?: string[]) {
  const widths = lines.map((l, i) => measure(l, size) + (prefixes && prefixes[i] ? measure(prefixes[i], size, "bold") : 0));
  const fullScales = widths.map((w, i) => (full[i] ? Math.min(1.08, width / w) : NaN)).filter((s) => !isNaN(s));
  const avg = fullScales.length ? fullScales.reduce((a, b) => a + b, 0) / fullScales.length : 1;
  lines.forEach((l, i) => {
    let s = full[i] ? Math.min(1.08, width / widths[i]) : avg;
    if (widths[i] * s > width) s = width / widths[i];
    const p = prefixes && prefixes[i];
    if (p) {
      const pw = measure(p, size, "bold");
      elements.push(txt(x, ys[i], p, size, color, "bold", "left", s));
      elements.push(txt(x + pw * s, ys[i], l, size, color, "normal", "left", s));
    } else {
      elements.push(txt(x, ys[i], l, size, color, "normal", "left", s));
    }
  });
}

function buildOption() {
  const grid: any[] = [], xAxis: any[] = [], yAxis: any[] = [], series: any[] = [], elements: any[] = [];

  const tW = measure(pageTitle, 18, "bold");
  elements.push(txt(400, 25, pageTitle, 18, "#333333", "bold", "center", Math.min(1.05, 533 / tW)));
  const sW = measure(pageSubtitle, 12);
  elements.push(txt(400, 53, pageSubtitle, 12, "#999999", "normal", "center", Math.min(1.05, 225 / sW)));

  defs.forEach((c, k) => {
    const gi = k * 2;
    if (c.hr) {
      elements.push({ type: "line", z: 1, silent: true, shape: { x1: 30, y1: c.top - 100, x2: 770, y2: c.top - 100 }, style: { stroke: "#e3e3e3", lineWidth: 1 } });
    }
    elements.push(txt(30, c.top - 81, c.heading, 14, "#ff4500"));
    paragraph(elements, 30, [c.top - 58, c.top - 36, c.top - 14], c.text, [true, true, false], 13, "#333333", 737);

    elements.push({ type: "rect", z: -10, silent: true, shape: { x: 30, y: c.top - 1, width: 743, height: c.bottom - c.top + 1 }, style: { fill: "#fefee9", stroke: "#d6d6c8", lineWidth: 1 } });
    elements.push(txt(33, c.top + 4, c.info, 5, "#000000"));
    elements.push(txt(33, c.macdTop + 4, c.macdInfo, 5, "#000000"));

    const cats = Array.from({ length: c.slots }, (_, i) =>
      i % 4 === 0 && i / 4 < timeLabels.length && i < c.candles.length ? timeLabels[i / 4] : ""
    );

    grid.push({ left: 31, width: 723, top: c.top, height: c.mainH, show: true, borderColor: "#7a7a7a", borderWidth: 1, backgroundColor: "transparent" });
    grid.push({ left: 31, width: 723, top: c.macdTop, height: c.macdH, show: true, borderColor: "#7a7a7a", borderWidth: 1, backgroundColor: "transparent" });

    xAxis.push({ gridIndex: gi, type: "category", data: cats, boundaryGap: false, axisLine: { show: false }, axisTick: { show: false }, axisLabel: { show: false }, splitLine: { show: false } });
    xAxis.push({ gridIndex: gi + 1, type: "category", data: cats, boundaryGap: false, axisLine: { show: false }, axisTick: { show: false },
      axisLabel: { show: true, interval: 0, fontSize: 5, color: "#333", align: "left", margin: 3, fontFamily: "Arial" }, splitLine: { show: false } });

    yAxis.push({ gridIndex: gi, type: "value", position: "right", min: c.yMin, max: c.yMax, splitNumber: 16, splitLine: { show: false },
      axisLine: { show: true, lineStyle: { color: "#7a7a7a" } }, axisTick: { show: true, length: 2, lineStyle: { color: "#7a7a7a" } },
      axisLabel: { fontSize: 5, color: "#333", margin: 2, fontFamily: "Arial", showMinLabel: false, showMaxLabel: false, formatter: (v: number) => v.toFixed(c.digits) } });
    yAxis.push({ gridIndex: gi + 1, type: "value", position: "right", min: c.mMin, max: c.mMax, splitNumber: 4, splitLine: { show: false },
      axisLine: { show: true, lineStyle: { color: "#7a7a7a" } }, axisTick: { show: false },
      axisLabel: { fontSize: 5, color: "#333", margin: 2, fontFamily: "Arial",
        formatter: (v: number) => (Math.abs(v) < 1e-12 ? "0.00" : Math.abs(v - c.mMax) < 1e-9 ? c.mMax.toFixed(c.mDigits) : Math.abs(v - c.mMin) < 1e-9 ? c.mMin.toFixed(c.mDigits) : "") } });

    const lvlLabel = (bg: string, v: number) => ({ show: true, position: "end", formatter: v.toFixed(c.digits), color: "#fff", backgroundColor: bg, fontSize: 5, padding: [1, 1], distance: 1, fontFamily: "Arial" });

    series.push({
      type: "candlestick", xAxisIndex: gi, yAxisIndex: gi, data: c.candles, barWidth: 4, z: 3,
      itemStyle: { color: "#ff0000", color0: "#2e8b57", borderColor: "#ff0000", borderColor0: "#2e8b57", borderWidth: 1 },
      markLine: {
        symbol: ["none", "none"], silent: true, animation: false,
        data: [
          ...c.levels.map((v) => ({ yAxis: v, lineStyle: { color: "#ff6b6b", width: 1.5, type: "solid" }, label: lvlLabel("#ff0000", v) })),
          { yAxis: c.last, lineStyle: { color: "#8c8c8c", width: 1.5, type: "solid" }, label: lvlLabel("#000000", c.last) },
        ],
      },
    });
    [c.upper, c.middle, c.lower].forEach((band) => {
      series.push({ type: "line", xAxisIndex: gi, yAxisIndex: gi, data: c.bandIdx.map((x, i) => [x, band[i]]), smooth: 0.4, symbol: "none",
        lineStyle: { color: "#98d4a8", width: 1 }, z: 2 });
    });
    series.push({ type: "bar", xAxisIndex: gi + 1, yAxisIndex: gi + 1, barWidth: 1, z: 2,
      data: c.hist.map((v) => ({ value: v, itemStyle: { color: v >= 0 ? "#ff2a2a" : "#2a8a2a" } })) });
    series.push({ type: "line", xAxisIndex: gi + 1, yAxisIndex: gi + 1, data: c.bandIdx.map((x, i) => [x, c.macd[i]]), smooth: 0.4, symbol: "none",
      lineStyle: { color: "#8080ff", width: 1 }, z: 3 });
    series.push({ type: "line", xAxisIndex: gi + 1, yAxisIndex: gi + 1, data: c.bandIdx.map((x, i) => [x, c.signal[i]]), smooth: 0.4, symbol: "none",
      lineStyle: { color: "#ff2020", width: 1.6 }, z: 4 });
  });

  elements.push({ type: "line", z: 1, silent: true, shape: { x1: 30, y1: 2134, x2: 770, y2: 2134 }, style: { stroke: "#e3e3e3", lineWidth: 1 } });
  paragraph(
    elements, 30,
    footerLines.map((_, i) => 2155 + i * 22),
    footerLines.map((f) => f[1]),
    footerLines.map((f) => f[2]),
    11, "#333333", 736,
    footerLines.map((f) => f[0])
  );

  return { animation: false, backgroundColor: "#ffffff", grid, xAxis, yAxis, series, graphic: { elements } };
}

export default function App() {
  const ref = useRef<HTMLDivElement>(null);
  useEffect(() => {
    if (!ref.current) return;
    const chart = echarts.init(ref.current, null, { renderer: "svg", width: 775, height: 2581 });
    chart.setOption(buildOption() as any);
    return () => chart.dispose();
  }, []);
  return <div ref={ref} style={{ position: "absolute", left: 0, top: 0, width: 775, height: 2581 }} />;
}
